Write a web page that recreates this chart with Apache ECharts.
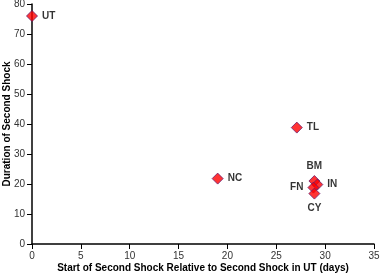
<!DOCTYPE html>
<html><head><meta charset="utf-8">
<script src="https://cdn.jsdelivr.net/npm/echarts@6/dist/echarts.min.js"></script>
<style>html,body{margin:0;padding:0;background:#fff}#c{width:382px;height:276px}</style>
</head><body><div id="c"></div>
<script>
const names = ['UT','TL','NC','BM','IN','FN','CY'];
const xs = [0, 27.1, 19.0, 28.9, 29.2, 28.8, 28.9];
const ys = [76, 38.8, 21.8, 21, 19.8, 18.8, 16.8];
const labelPos = ['right','right','right','top','right','left','bottom'];
const xTicks = [0,5,10,15,20,25,30,35];
const yTicks = [0,10,20,30,40,50,60,70,80];

const data = names.map((n,i)=>({
  value:[xs[i],ys[i]], name:n,
  label:{position:labelPos[i]}
}));
const chart = echarts.init(document.getElementById('c'));
const axisCommon = {
  axisLine:{show:true,lineStyle:{color:'#000',width:1.5}},
  axisTick:{show:true,inside:false,length:5,lineStyle:{color:'#000'}},
  axisLabel:{color:'#333',fontFamily:'Liberation Sans',fontSize:10,margin:7},
  splitLine:{show:false},
  nameMoveOverlap:false,
  nameTextStyle:{color:'#000',fontFamily:'Liberation Sans',fontSize:10,fontWeight:'bold'}
};
chart.setOption({
  animation:false,
  grid:{left:32,right:8,top:4,bottom:32,outerBoundsMode:'none',containLabel:false},
  xAxis:Object.assign({type:'value',min:0,max:35,interval:5,name:'Start of Second Shock Relative to Second Shock in UT (days)',nameLocation:'middle',nameGap:19},axisCommon),
  yAxis:Object.assign({type:'value',min:0,max:80,interval:10,name:'Duration of Second Shock',nameLocation:'middle',nameGap:20},axisCommon),
  series:[{
    type:'scatter',
    symbol:'diamond',
    symbolSize:11,
    itemStyle:{color:'#ff0000',borderColor:'#6a1b6a',borderWidth:1},
    label:{show:true,formatter:'{b}',color:'#000',fontFamily:'Liberation Sans',fontSize:10,fontWeight:'bold',distance:4},
    data:data
  }]
});
</script></body></html>
